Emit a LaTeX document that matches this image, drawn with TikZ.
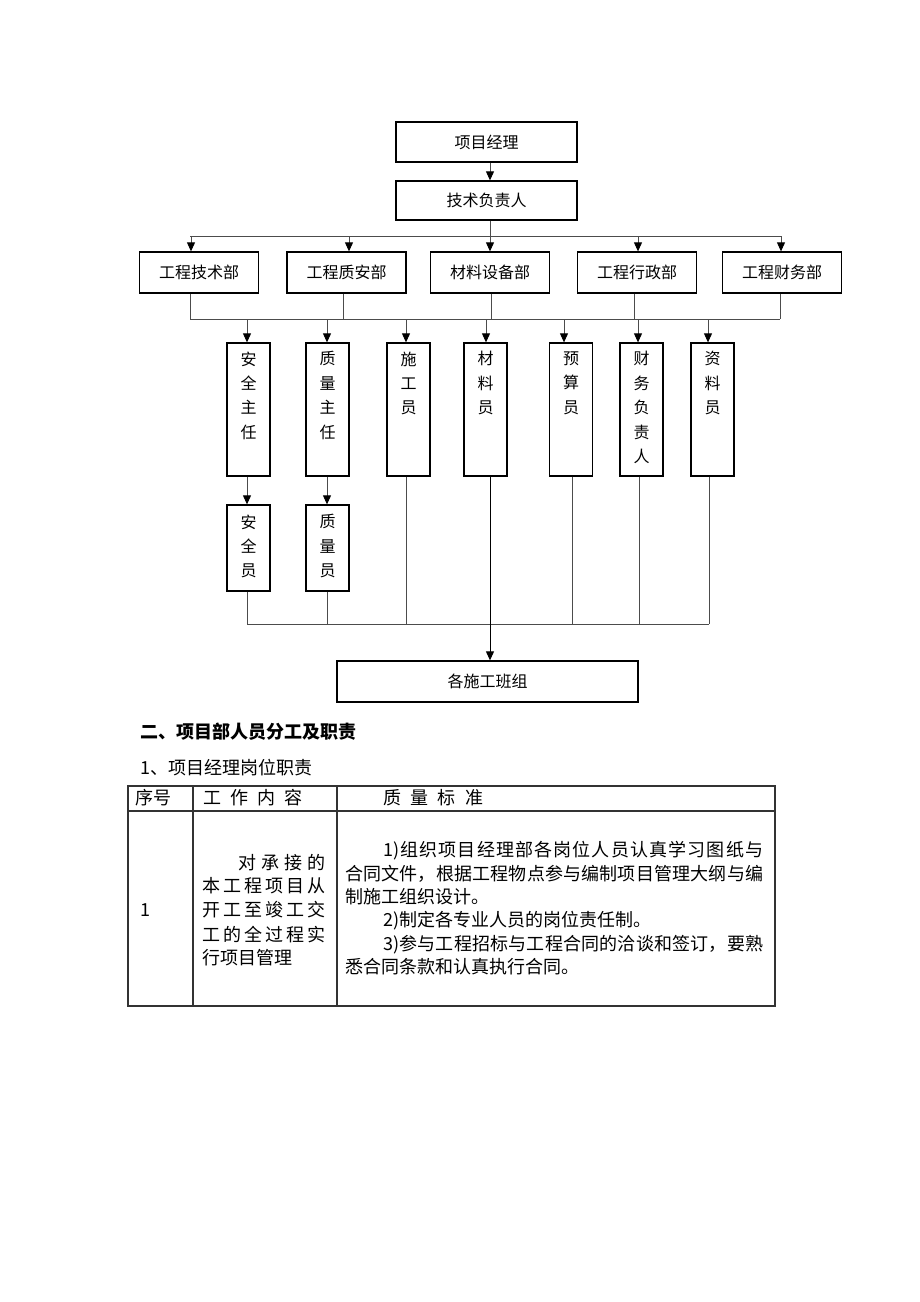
\documentclass[tikz,border=0pt]{standalone}
\usepackage{fontspec}
\setmainfont{Noto Sans CJK SC}
\usetikzlibrary{arrows.meta,calc}
\def\spreadA#1{#1\spreadB}
\def\spreadB#1{\ifx\relax#1\else\hfill#1\expandafter\spreadB\fi}
\newcommand\jline[2]{\hbox to #1{\spreadA#2\relax}}
\newcommand\jlineP[3]{\hbox to #1{#2\hfill\spreadA#3\relax}}
\begin{document}
\begin{tikzpicture}[x=1pt,y=-1pt,
  box/.style={draw=black, line width=1.3pt, inner sep=0pt, font=\fontsize{16}{16}\selectfont},
  vtxt/.style={inner sep=0pt, align=center, font=\fontsize{16}{24.4}\selectfont, anchor=north},
  conn/.style={draw=black!70, line width=0.9pt},
  arr/.style={conn, -{Triangle[length=9pt,width=8pt,color=black]}},
  tline/.style={draw=black!80, line width=1.1pt},
  tt/.style={inner sep=0pt, anchor=west, font=\fontsize{18}{18}\selectfont, text height=15.8pt, text depth=2.2pt}]
\fill[white] (0,0) rectangle (920,1302);
\useasboundingbox (0,0) rectangle (920,1302);

% top boxes
\node[box, minimum width=181pt, minimum height=40pt] (pm) at (486.5,142) {项目经理};
\node[box, minimum width=181pt, minimum height=39pt] (tr) at (486.5,200.5) {技术负责人};

% departments
\node[box, minimum width=119pt, minimum height=41pt] (d1) at (199,272.5) {工程技术部};
\node[box, minimum width=119pt, minimum height=41pt] (d2) at (346.5,272.5) {工程质安部};
\node[box, minimum width=119pt, minimum height=41pt] (d3) at (490,272.5) {材料设备部};
\node[box, minimum width=119pt, minimum height=41pt] (d4) at (637,272.5) {工程行政部};
\node[box, minimum width=119pt, minimum height=41pt] (d5) at (782,272.5) {工程财务部};

% staff boxes
\node[box, minimum width=43pt, minimum height=133pt] (s1) at (248.5,409.5) {};
\node[box, minimum width=43pt, minimum height=133pt] (s2) at (327.5,409.5) {};
\node[box, minimum width=43pt, minimum height=133pt] (s3) at (408.5,409.5) {};
\node[box, minimum width=43pt, minimum height=133pt] (s4) at (485.5,409.5) {};
\node[box, minimum width=43pt, minimum height=133pt] (s5) at (571,409.5) {};
\node[box, minimum width=43pt, minimum height=133pt] (s6) at (641.5,409.5) {};
\node[box, minimum width=43pt, minimum height=133pt] (s7) at (712.5,409.5) {};
\node[box, minimum width=43pt, minimum height=86pt] (s8) at (248.5,548) {};
\node[box, minimum width=43pt, minimum height=86pt] (s9) at (327.5,548) {};

\node[vtxt] (t1) at ($(s1.north)+(0,9)$) {安\\全\\主\\任};
\node[vtxt] (t2) at ($(s2.north)+(0,9)$) {质\\量\\主\\任};
\node[vtxt] (t3) at ($(s3.north)+(0,9)$) {施\\工\\员};
\node[vtxt] (t4) at ($(s4.north)+(0,9)$) {材\\料\\员};
\node[vtxt] (t5) at ($(s5.north)+(0,9)$) {预\\算\\员};
\node[vtxt] (t6) at ($(s6.north)+(0,9)$) {财\\务\\负\\责\\人};
\node[vtxt] (t7) at ($(s7.north)+(0,9)$) {资\\料\\员};
\node[vtxt] (t8) at ($(s8.north)+(0,10)$) {安\\全\\员};
\node[vtxt] (t9) at ($(s9.north)+(0,10)$) {质\\量\\员};

% team box
\node[box, minimum width=301pt, minimum height=41pt] (team) at (487.5,681.5) {各施工班组};

% connectors: manager -> tech lead -> departments
\coordinate (ta) at (490,236);
\coordinate (b1l) at (190,236);
\coordinate (b1r) at (781,236);
\draw[arr] (pm.south -| ta) -- (tr.north -| ta);
\draw[conn] (tr.south -| ta) -- (ta);
\draw[conn] (b1l) -- (b1r);
\foreach \x/\n in {191/d1,349/d2,490/d3,638/d4,781/d5}{
  \coordinate (p) at (\x,236);
  \draw[arr] (p) -- (p |- \n.north);
}

% departments -> second bus
\coordinate (b2l) at (190,319);
\coordinate (b2r) at (780,319);
\draw[conn] (b2l) -- (b2r);
\foreach \x/\n in {190/d1,343/d2,491/d3,634/d4,780/d5}{
  \coordinate (p) at (\x,319);
  \draw[conn] (p |- \n.south) -- (p);
}
\foreach \x/\n in {247/s1,327/s2,406/s3,486/s4,564/s5,638/s6,708/s7}{
  \coordinate (p) at (\x,319);
  \draw[arr] (p) -- (p |- \n.north);
}

% supervisors -> staff
\coordinate (q1) at (247,0);
\coordinate (q2) at (327,0);
\draw[arr] (q1 |- s1.south) -- (q1 |- s8.north);
\draw[arr] (q2 |- s2.south) -- (q2 |- s9.north);

% bottom bus
\coordinate (b3l) at (247,624);
\coordinate (b3r) at (709,624);
\draw[conn] (b3l) -- (b3r);
\foreach \x/\n in {247/s8,327/s9,406/s3,572/s5,639/s6,709/s7}{
  \coordinate (p) at (\x,624);
  \draw[conn] (p |- \n.south) -- (p);
}
\coordinate (m) at (490,0);
\draw[draw=black, line width=1pt, -{Triangle[length=9pt,width=8pt]}] (m |- s4.south) -- (m |- team.north);

% headings
\node[tt] (h1) at (140,732) {\bfseries 二、项目部人员分工及职责};
\node[tt] (h2) at (140,768) {1、项目经理岗位职责};

% table
\draw[tline] (128,786) rectangle (775,1006);
\draw[tline] (128,811) -- (775,811);
\draw[tline] (193,786) -- (193,1006);
\draw[tline] (337,786) -- (337,1006);

\node[tt] (c11) at (135,798) {序号};
\node[tt] (c12) at (203,798) {\jline{99pt}{工作内容}};
\node[tt] (c13) at (383,798) {\jline{100pt}{质量标准}};
\node[tt] (c21) at (140,910) {1};

\node[tt] (w1) at (238,863) {\jline{87pt}{对承接的}};
\node[tt] (w2) at (202,886) {\jline{123pt}{本工程项目从}};
\node[tt] (w3) at (202,910) {\jline{123pt}{开工至竣工交}};
\node[tt] (w4) at (202,935) {\jline{123pt}{工的全过程实}};
\node[tt] (w5) at (202,958) {行项目管理};

\node[tt] (r1) at (383,850) {\jlineP{380pt}{1)}{组织项目经理部各岗位人员认真学习图纸与}};
\node[tt] (r2) at (345,873.5) {\jline{418pt}{合同文件，根据工程物点参与编制项目管理大纲与编}};
\node[tt] (r3) at (345,897) {制施工组织设计。};
\node[tt] (r4) at (383,920) {2)制定各专业人员的岗位责任制。};
\node[tt] (r5) at (383,943.5) {\jlineP{380pt}{3)}{参与工程招标与工程合同的洽谈和签订，要熟}};
\node[tt] (r6) at (345,967) {悉合同条款和认真执行合同。};
\end{tikzpicture}
\end{document}
